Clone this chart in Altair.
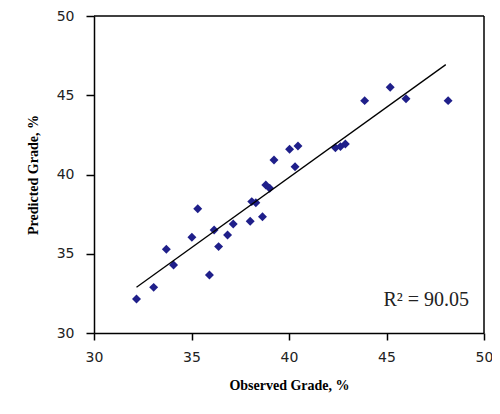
import altair as alt
import pandas as pd

observed = [32.18, 33.06, 33.71, 34.08, 35.02, 35.32, 35.92, 36.16, 36.39, 36.85,
            37.14, 38.01, 38.09, 38.30, 38.64, 38.81, 39.01, 39.23, 40.03, 40.31,
            40.46, 42.38, 42.64, 42.89, 43.88, 45.19, 46.00, 48.16]
predicted = [32.15, 32.88, 35.28, 34.29, 36.04, 37.84, 33.66, 36.50, 35.45, 36.18,
             36.88, 37.05, 38.29, 38.22, 37.34, 39.34, 39.13, 40.92, 41.59, 40.49,
             41.80, 41.69, 41.76, 41.93, 44.66, 45.50, 44.78, 44.66]
axis_ticks = [30, 35, 40, 45, 50]
frame_edge = [50]
r2_label = ["R² = 90.05"]

W, H = 390, 317

df = pd.DataFrame({"obs": observed, "pred": predicted})

xs = alt.Scale(domain=[30, 50], nice=False, zero=False)
ys = alt.Scale(domain=[30, 50], nice=False, zero=False)

x_axis = alt.Axis(values=axis_ticks, title="Observed Grade, %", grid=False,
                  labelFont="DejaVu Sans", labelFontSize=14, labelColor="#222",
                  labelPadding=10, tickSize=7, tickColor="black", domainColor="black",
                  domainWidth=1.5, tickWidth=1.5, titleFont="Liberation Serif",
                  titleFontSize=14, titleFontWeight="bold", titlePadding=14,
                  labelFlush=False)
y_axis = alt.Axis(values=axis_ticks, title="Predicted Grade, %", grid=False,
                  labelFont="DejaVu Sans", labelFontSize=14, labelColor="#222",
                  labelPadding=12, tickSize=8, tickColor="black", domainColor="black",
                  domainWidth=1.5, tickWidth=1.5, titleFont="Liberation Serif",
                  titleFontSize=14, titleFontWeight="bold", titlePadding=16,
                  labelFlush=False)

edge_df = pd.DataFrame({"v": frame_edge})
top_rule = alt.Chart(edge_df).mark_rule(color="black", strokeWidth=1.5).encode(
    y=alt.Y("v:Q", scale=ys)
)
right_rule = alt.Chart(edge_df).mark_rule(color="black", strokeWidth=1.5).encode(
    x=alt.X("v:Q", scale=xs)
)

points = alt.Chart(df).mark_point(shape="diamond", filled=True, color="#1f1f8a",
                                  size=80, opacity=1).encode(
    x=alt.X("obs:Q", scale=xs, axis=x_axis),
    y=alt.Y("pred:Q", scale=ys, axis=y_axis),
)

trend = alt.Chart(df).transform_regression(
    "obs", "pred", extent=[32.18, 48.04]
).mark_line(color="black", strokeWidth=1.3).encode(
    x=alt.X("obs:Q", scale=xs),
    y=alt.Y("pred:Q", scale=ys),
)

label = alt.Chart(pd.DataFrame({"t": r2_label})).mark_text(
    font="Liberation Serif", fontSize=20, align="right", baseline="alphabetic",
    color="#222"
).encode(
    text="t:N",
    x=alt.value(375),
    y=alt.value(290),
)

chart = alt.layer(points, trend, top_rule, right_rule, label).properties(
    width=W, height=H,
    autosize=alt.AutoSizeParams(type="none"),
    padding={"left": 86, "top": 8, "right": 8, "bottom": 60},
).configure(background="white").configure_view(stroke=None)

chart.save("out.html", embed_options={"renderer": "svg", "actions": False})
